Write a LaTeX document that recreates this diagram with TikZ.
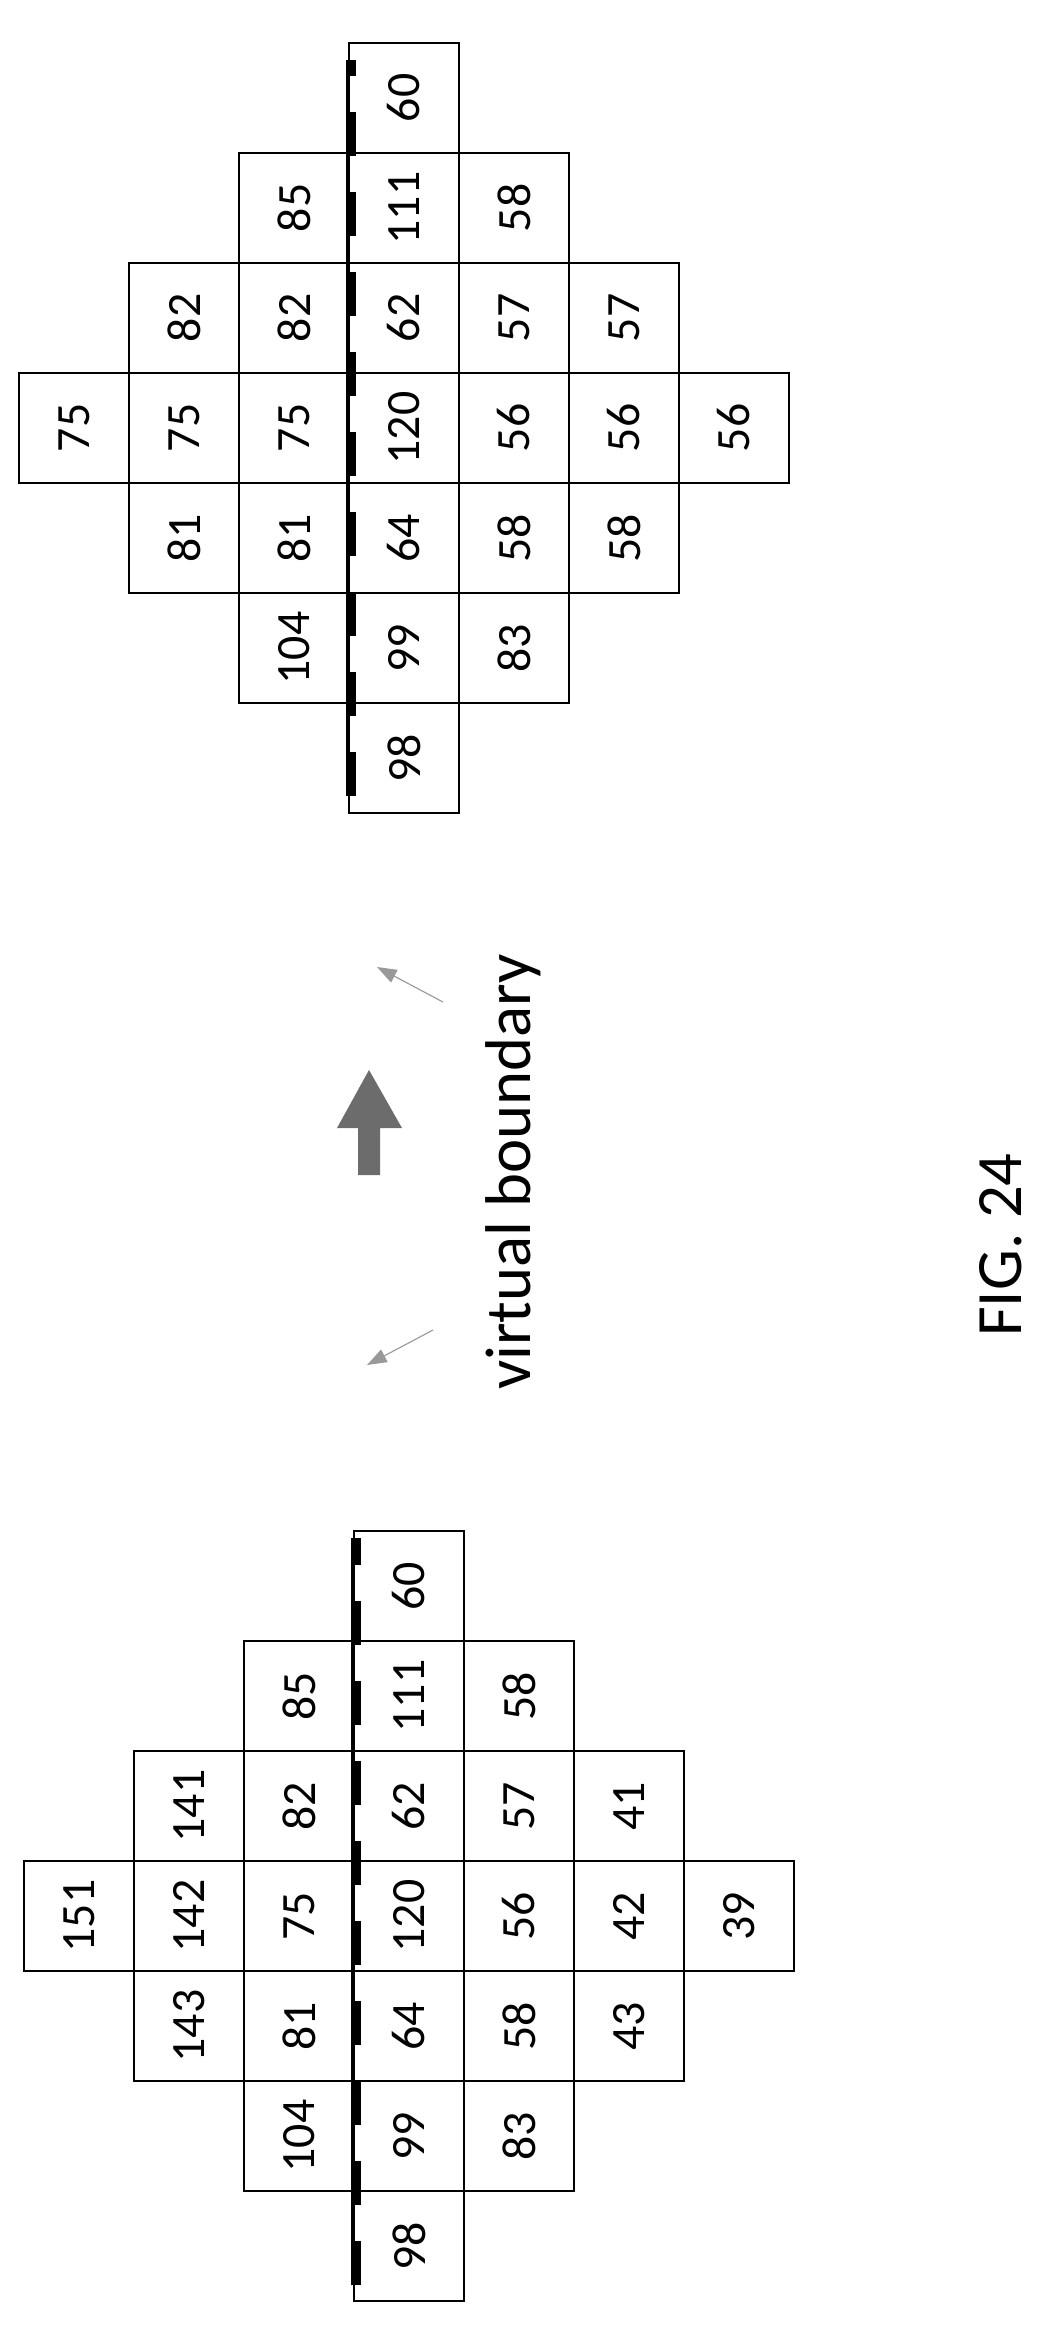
\documentclass[tikz,border=0pt]{standalone}
\usepackage{fontspec}
\setmainfont{Carlito}
\usetikzlibrary{calc, positioning}
\usetikzlibrary{arrows.meta}
\def\cw{2.75cm}
\tikzset{
    cell/.style = {
        draw, rectangle, minimum width=\cw, minimum height=\cw, line width=2pt,
        inner sep=0pt, font=\fontsize{34}{34}\selectfont
    },
    vbline/.style = {line width=1.6pt},
    vbdash/.style = {line width=7pt, dash pattern=on 1.1cm off 0.9cm},
    hint/.style = {draw=gray!80, line width=0.8pt, -{Triangle[width=10pt,length=14pt]}},
}
\begin{document}
\begin{tikzpicture}[x=0.025cm, y=-0.025cm]
        \useasboundingbox (0,0) rectangle (1043,2341);
        % Upper grid
        \foreach \c/\r/\v in {3/0/60, 3/1/111, 3/2/62, 3/3/120, 3/4/64, 3/5/99, 3/6/98,
                              2/1/85, 2/2/82, 2/3/75, 2/4/81, 2/5/104,
                              1/2/82, 1/3/75, 1/4/81, 0/3/75,
                              4/1/58, 4/2/57, 4/3/56, 4/4/58, 4/5/83,
                              5/2/57, 5/3/56, 5/4/58, 6/3/56}{
            \node[cell] (up-\c-\r) at (74+110*\c, 98+110*\r) {\rotatebox{90}{\v}};
        }
        % Lower grid
        \foreach \c/\r/\v in {3/0/60, 3/1/111, 3/2/62, 3/3/120, 3/4/64, 3/5/99, 3/6/98,
                              2/1/85, 2/2/82, 2/3/75, 2/4/81, 2/5/104,
                              1/2/141, 1/3/142, 1/4/143, 0/3/151,
                              4/1/58, 4/2/57, 4/3/56, 4/4/58, 4/5/83,
                              5/2/41, 5/3/42, 5/4/43, 6/3/39}{
            \node[cell] (lo-\c-\r) at (79+110*\c, 1586+110*\r) {\rotatebox{90}{\v}};
        }
        % Virtual boundaries
        \coordinate (upA) at ($(up-3-6.south west)+(0,-18)$);
        \coordinate (upB) at ($(up-3-0.north west)+(0,18)$);
        \coordinate (loA) at ($(lo-3-6.south west)+(0,-17)$);
        \coordinate (loB) at ($(lo-3-0.north west)+(0,8)$);
        \draw[vbline] (upA) -- (upB);
        \draw[vbline] (loA) -- (loB);
        \draw[vbdash] ($(upA)+(3,0)$) -- ($(upB)+(3,0)$);
        \draw[vbdash] ($(loA)+(3,0)$) -- ($(loB)+(3,0)$);

        % Label and arrows
        \node[rotate=90, font=\fontsize{46}{46}\selectfont, anchor=base] (vb) at (530,1172) {virtual boundary};
        \coordinate (h1) at (443,1002);
        \coordinate (h2) at (433,1330);
        \draw[hint] (h1) -- (377,967);
        \draw[hint] (h2) -- (367,1365);
        \fill[gray!85!black] (358,1175) -- (358,1128) -- (337,1128) -- (369,1070)
            -- (402,1128) -- (380,1128) -- (380,1175) -- cycle;

        \node[rotate=90, font=\fontsize{46}{46}\selectfont] (fig) at (1001,1245) {FIG. 24};
    \end{tikzpicture}
\end{document}
